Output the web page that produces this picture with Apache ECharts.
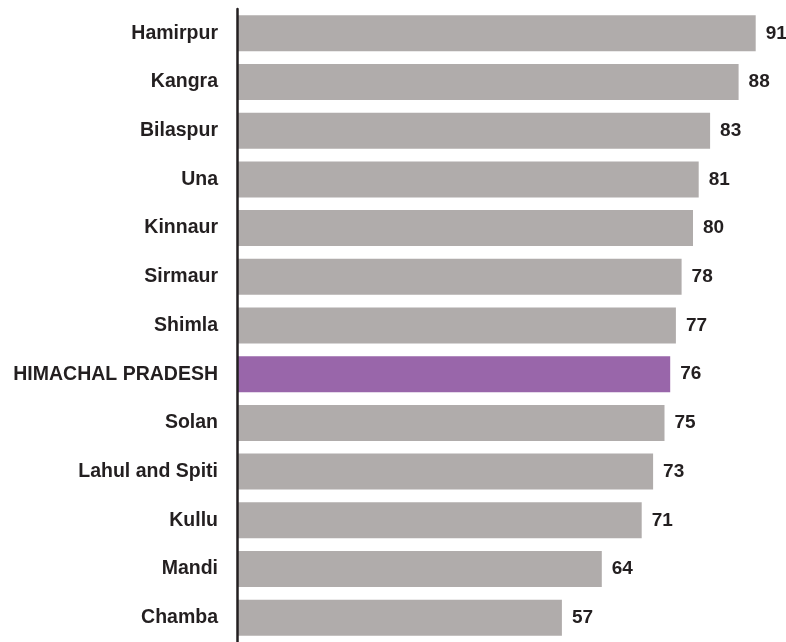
<!DOCTYPE html>
<html>
<head>
<meta charset="utf-8">
<script src="https://cdn.jsdelivr.net/npm/echarts@6/dist/echarts.min.js"></script>
<style>
  html, body { margin: 0; padding: 0; background: #fff; }
  #chart { width: 786px; height: 642px; }
</style>
</head>
<body>
<div id="chart"></div>
<script>
/* ----- data ----- */
const districts = ['Hamirpur', 'Kangra', 'Bilaspur', 'Una', 'Kinnaur', 'Sirmaur', 'Shimla',
  'HIMACHAL PRADESH', 'Solan', 'Lahul and Spiti', 'Kullu', 'Mandi', 'Chamba'];
const scores = [91, 88, 83, 81, 80, 78, 77, 76, 75, 73, 71, 64, 57];
const highlight = 'HIMACHAL PRADESH';

/* ----- colours ----- */
const barGrey = '#b0acab';
const barPurple = '#9966aa';
const textDark = '#231f20';
const font = 'Liberation Sans, Arial, sans-serif';

const chart = echarts.init(document.getElementById('chart'));

chart.setOption({
  animation: false,
  grid: { left: 237, top: 9, width: 541.5, height: 637, containLabel: false },
  xAxis: {
    type: 'value',
    min: 0,
    max: 95,
    show: false
  },
  yAxis: {
    type: 'category',
    data: districts,
    inverse: true,
    offset: 2,
    z: 5,
    axisLine: { show: true, lineStyle: { color: textDark, width: 2.5 } },
    axisTick: { show: false },
    axisLabel: {
      margin: 17,
      color: textDark,
      fontFamily: font,
      fontWeight: 'bold',
      fontSize: 19.5
    }
  },
  series: [{
    type: 'bar',
    barWidth: 36,
    data: scores.map((v, i) => ({
      value: v,
      itemStyle: { color: districts[i] === highlight ? barPurple : barGrey }
    })),
    label: {
      show: true,
      position: 'right',
      distance: 10,
      color: textDark,
      fontFamily: font,
      fontWeight: 'bold',
      fontSize: 19
    }
  }]
});
</script>
</body>
</html>
